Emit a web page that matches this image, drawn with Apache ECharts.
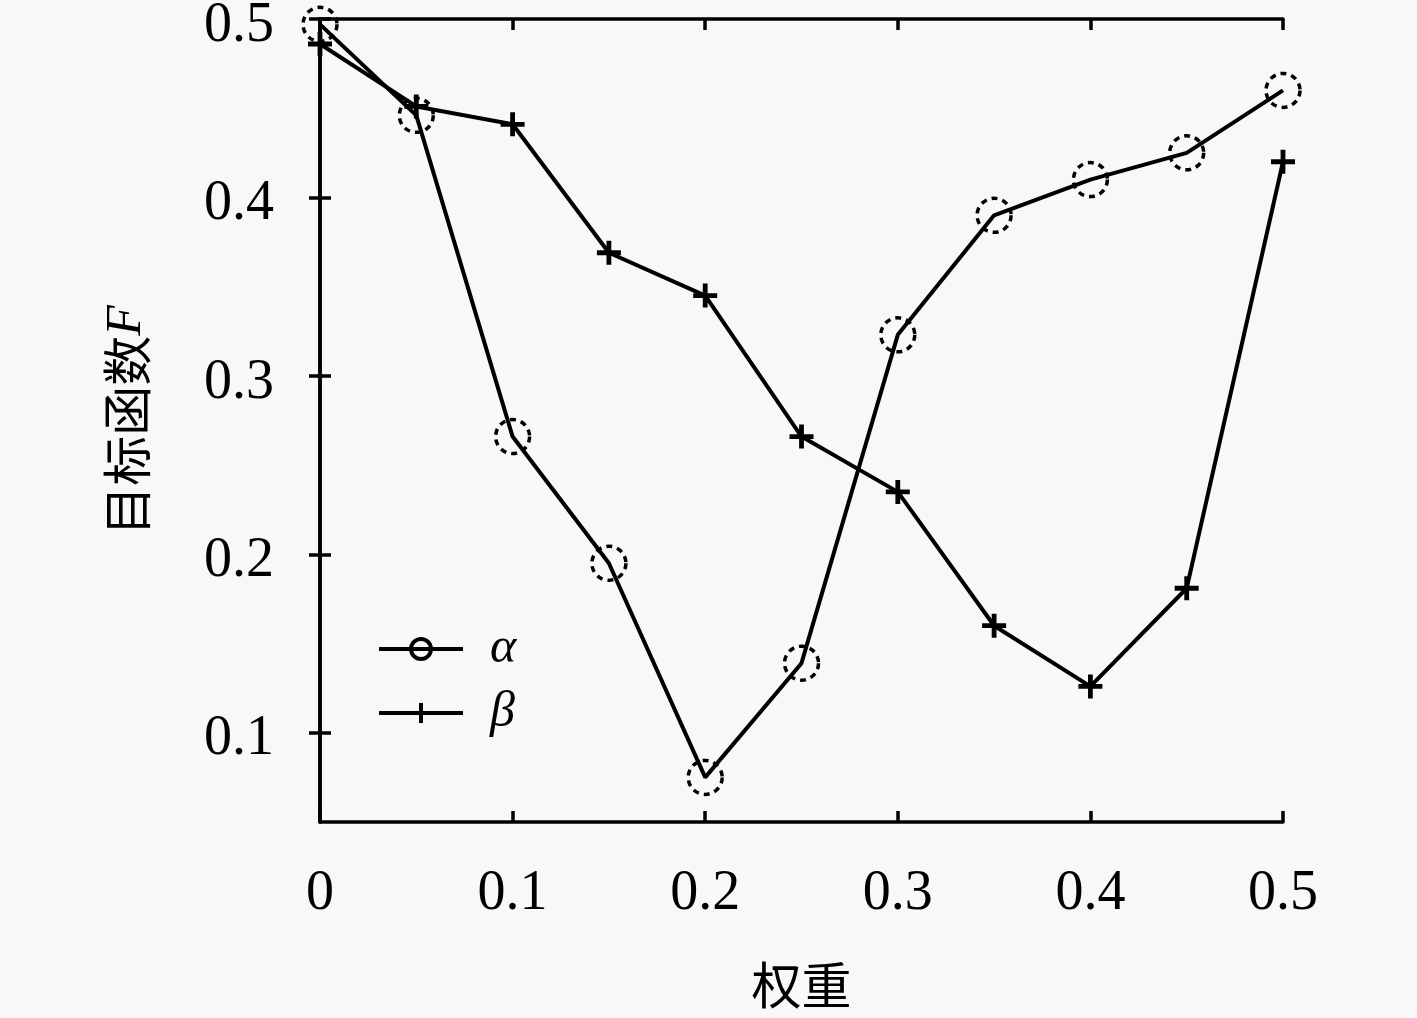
<!DOCTYPE html>
<html>
<head>
<meta charset="utf-8">
<script src="https://cdn.jsdelivr.net/npm/echarts@6/dist/echarts.min.js"></script>
<style>
  html, body { margin: 0; padding: 0; background: #f8f8f8; }
  #chart { width: 1417px; height: 1018px; }
</style>
</head>
<body>
<div id="chart"></div>
<script>
// 目标函数 F 随权重变化

const weights = [0, 0.05, 0.1, 0.15, 0.2, 0.25, 0.3, 0.35, 0.4, 0.45, 0.5];
const alphaValues = [0.497, 0.446, 0.266, 0.195, 0.075, 0.139, 0.323, 0.39, 0.41, 0.425, 0.46];
const betaValues = [0.486, 0.451, 0.441, 0.369, 0.345, 0.266, 0.235, 0.16, 0.126, 0.181, 0.42];
const xTicks = [0, 0.1, 0.2, 0.3, 0.4, 0.5];
const yTicks = [0.1, 0.2, 0.3, 0.4, 0.5];

const serif = '"Liberation Serif", "DejaVu Serif", serif';
const cjk = '"Noto Sans CJK SC", sans-serif';
const plusPath = 'path://M-2,-10 L2,-10 L2,-2 L10,-2 L10,2 L2,2 L2,10 L-2,10 L-2,2 L-10,2 L-10,-2 L-2,-2 Z';

const chart = echarts.init(document.getElementById('chart'));

const axisLine = { show: true, lineStyle: { color: '#000', width: 3.5 } };
const tickStyle = { show: true, inside: true, length: 11, lineStyle: { color: '#000', width: 3.5 } };

const option = {
    backgroundColor: '#f8f8f8',
    animation: false,
    grid: { left: 320, right: 134, top: 19, bottom: 196, outerBoundsMode: 'none', containLabel: false },
    legend: {
        orient: 'vertical',
        left: 372,
        top: 619,
        itemWidth: 84,
        itemHeight: 25,
        itemGap: 14,
        textStyle: { fontFamily: serif, fontStyle: 'italic', fontSize: 50, color: '#000', padding: [0, 0, 0, 22] },
        data: [
            { name: 'α', itemStyle: { borderType: 'solid', borderWidth: 4 }, lineStyle: { width: 4 } },
            { name: 'β', lineStyle: { width: 4 } }
        ]
    },
    xAxis: [
        {
            type: 'value',
            min: 0,
            max: 0.5,
            interval: 0.1,
            name: '权重',
            nameLocation: 'middle',
            nameGap: 138,
            nameTextStyle: { fontFamily: cjk, fontSize: 50, color: '#000' },
            axisLine: axisLine,
            axisTick: tickStyle,
            splitLine: { show: false },
            axisLabel: {
                margin: 44,
                fontFamily: serif,
                fontSize: 56,
                color: '#000',
                formatter: v => String(+v.toFixed(2))
            }
        },
        {
            type: 'value',
            position: 'top',
            min: 0,
            max: 0.5,
            interval: 0.1,
            axisLine: axisLine,
            axisTick: tickStyle,
            axisLabel: { show: false },
            splitLine: { show: false }
        }
    ],
    yAxis: [
        {
            type: 'value',
            min: 0.05,
            max: 0.5,
            name: '目标函数{f|F}',
            nameLocation: 'middle',
            nameGap: 168,
            nameTextStyle: {
                fontFamily: cjk,
                fontSize: 50,
                color: '#000',
                rich: { f: { fontFamily: serif, fontStyle: 'italic', fontSize: 50, color: '#000' } }
            },
            axisLine: axisLine,
            axisTick: Object.assign({ customValues: yTicks }, tickStyle),
            splitLine: { show: false },
            axisLabel: {
                customValues: yTicks,
                margin: 46,
                fontFamily: serif,
                fontSize: 56,
                color: '#000',
                formatter: v => '{n|' + v.toFixed(1) + '}',
                rich: { n: { fontFamily: serif, fontSize: 56, color: '#000', padding: [14, 0, 0, 0] } }
            }
        },
        {
            type: 'value',
            position: 'right',
            min: 0.05,
            max: 0.5,
            axisLine: axisLine,
            axisTick: Object.assign({ customValues: yTicks }, tickStyle),
            axisLabel: { show: false },
            splitLine: { show: false }
        }
    ],
    series: [
        {
            name: 'α',
            type: 'line',
            clip: false,
            data: weights.map((w, i) => [w, alphaValues[i]]),
            symbol: 'circle',
            symbolSize: 34,
            lineStyle: { color: '#000', width: 4 },
            itemStyle: { color: 'rgba(0,0,0,0)', borderColor: '#000', borderWidth: 3.5, borderType: [6, 5] }
        },
        {
            name: 'β',
            type: 'line',
            clip: false,
            data: weights.map((w, i) => [w, betaValues[i]]),
            symbol: plusPath,
            symbolSize: 24,
            lineStyle: { color: '#000', width: 4 },
            itemStyle: { color: '#000', borderWidth: 0 }
        }
    ]
};

chart.setOption(option);
</script>
</body>
</html>
